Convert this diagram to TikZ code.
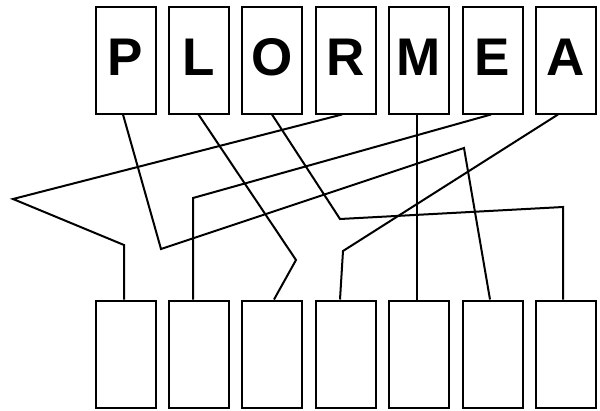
\documentclass[tikz,border=0pt]{standalone}
\usepackage{fontspec}
\setmainfont{Liberation Sans}
\begin{document}
\begin{tikzpicture}[x=1pt,y=-1pt,
  tile/.style={draw, line width=2pt, minimum width=60pt, minimum height=107pt, inner sep=0pt, fill=white},
  letter/.style={font=\fontsize{53}{53}\selectfont\bfseries, inner sep=0pt, anchor=base},
  wire/.style={line width=2pt, line join=miter}]
\useasboundingbox (0,0) rectangle (600,410);
% tiles
\foreach \i/\x in {1/125.5,2/198.5,3/272,4/345.5,5/419,6/492.5,7/566}{
  \node[tile] (t\i) at (\x,60) {};
  \node[tile] (b\i) at (\x,354) {};
}
\node[letter] (lp) at (125.5,75) {P};
\node[letter] (ll) at (198.5,75) {L};
\node[letter] (lo) at (272,75) {O};
\node[letter] (lr) at (345.5,75) {R};
\node[letter] (lm) at (419,75) {M};
\node[letter] (le) at (492.5,75) {E};
\node[letter] (la) at (566,75) {A};
% connectors
\draw[wire] ([xshift=-2.5pt]t1.south) -- (161,249) -- (464,148) -- ([xshift=-2.5pt]b6.north);
\draw[wire] (t2.south) -- (296,260) -- ([xshift=2pt]b3.north);
\draw[wire] (t3.south) -- (340,219) -- (563,207) -- ([xshift=-3pt]b7.north);
\draw[wire] ([xshift=-3.5pt]t4.south) -- (13,199) -- (124,245) -- ([xshift=-1.5pt]b1.north);
\draw[wire] ([xshift=-2pt]t5.south) -- ([xshift=-2pt]b5.north);
\draw[wire] ([xshift=-1.5pt]t6.south) -- (193,198) -- ([xshift=-5.5pt]b2.north);
\draw[wire] ([xshift=-8pt]t7.south) -- (343,251) -- ([xshift=-5.5pt]b4.north);
\end{tikzpicture}
\end{document}
